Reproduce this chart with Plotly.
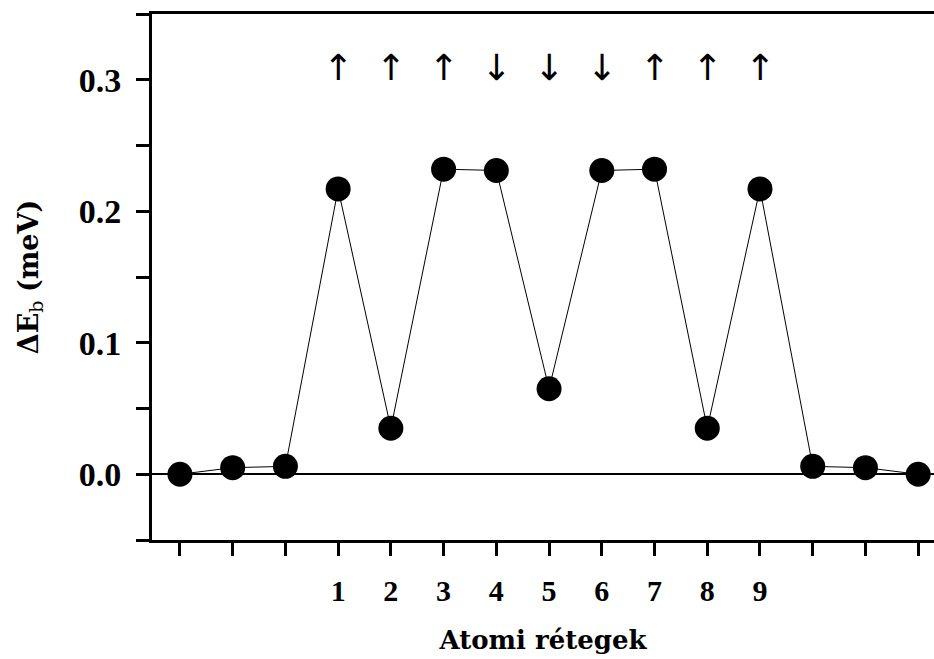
import plotly.graph_objects as go

layers = [-2, -1, 0, 1, 2, 3, 4, 5, 6, 7, 8, 9, 10, 11, 12]
delta_eb = [0.0, 0.005, 0.006, 0.217, 0.035, 0.232, 0.231, 0.065, 0.231, 0.232, 0.035, 0.217, 0.006, 0.005, 0.0]
x_tick_vals = layers
x_tick_text = ["", "", "", "1", "2", "3", "4", "5", "6", "7", "8", "9", "", "", ""]
y_tick_vals = [-0.05, 0.0, 0.05, 0.1, 0.15, 0.2, 0.25, 0.3, 0.35]
y_tick_text = ["", "0.0", "", "0.1", "", "0.2", "", "0.3", ""]
spin_x = [1, 2, 3, 4, 5, 6, 7, 8, 9]
spin_y = [0.307] * 9
spin_text = ["↑", "↑", "↑", "↓", "↓", "↓", "↑", "↑", "↑"]

serif = "Liberation Serif"
title_font = "DejaVu Serif"

fig = go.Figure()
fig.add_trace(go.Scatter(
    x=layers, y=delta_eb, mode="lines+markers",
    line=dict(color="black", width=1),
    marker=dict(color="black", size=25),
    showlegend=False, cliponaxis=False,
))
fig.add_trace(go.Scatter(
    x=spin_x, y=spin_y, mode="text", text=spin_text,
    textfont=dict(family="DejaVu Sans", size=36, color="black"),
    showlegend=False,
))

fig.update_layout(
    width=934, height=659,
    margin=dict(l=152, r=0, t=14, b=119),
    paper_bgcolor="white", plot_bgcolor="white",
    font=dict(family=serif, color="black"),
)
fig.update_xaxes(
    range=[-2.53, 12.3],
    tickmode="array", tickvals=x_tick_vals, ticktext=x_tick_text,
    ticks="outside", ticklen=13, tickwidth=3, tickcolor="black",
    showline=True, linewidth=3, linecolor="black", mirror=True,
    showgrid=False, zeroline=False,
    tickfont=dict(family=serif, size=30, color="black", weight="bold"),
    ticklabelstandoff=9,
    title=dict(text="<b>Atomi rétegek</b>", font=dict(family=title_font, size=26, color="black"), standoff=25),
)
fig.update_yaxes(
    range=[-0.05, 0.35],
    tickmode="array", tickvals=y_tick_vals, ticktext=y_tick_text,
    ticks="outside", ticklen=13, tickwidth=3, tickcolor="black",
    showline=True, linewidth=3, linecolor="black", mirror=False,
    showgrid=False,
    zeroline=True, zerolinecolor="black", zerolinewidth=1.5,
    tickfont=dict(family=serif, size=34, color="black", weight="bold"),
    ticklabelstandoff=8,
    title=dict(text="<b>ΔE</b><sub>b</sub> <b>(meV)</b>", font=dict(family=title_font, size=27, color="black"), standoff=33),
)

fig.write_html("out.html")
